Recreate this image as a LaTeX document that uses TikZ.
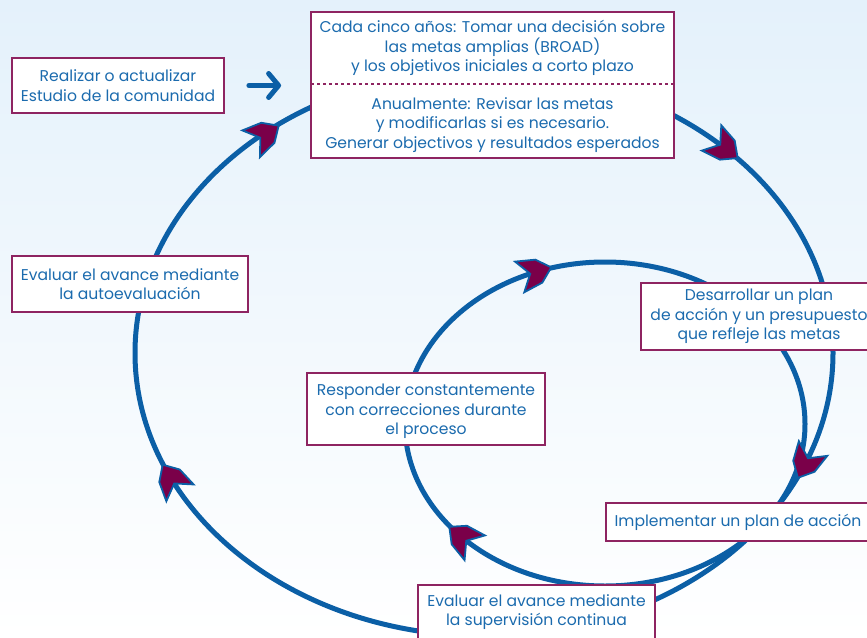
\documentclass[tikz,border=0pt]{standalone}
\usepackage{fontspec}
\setmainfont{Poppins}
\usetikzlibrary{arrows.meta, positioning}
\definecolor{loopblue} {HTML}{0B5FA6}
\definecolor{txtblue}  {HTML}{1B6BAE}
\definecolor{frame}    {HTML}{8E2461}
\definecolor{chev}     {HTML}{7A0049}
\definecolor{skytop}   {HTML}{E4F1FB}
\tikzset{
  stage/.style={draw=frame, line width=1.8pt, fill=white, text=txtblue, align=center,
    inner sep=0pt, font=\fontsize{15.6}{19.5}\selectfont},
  loop/.style={draw=loopblue, line width=5pt},
  chevron/.pic={\filldraw[fill=chev, draw=loopblue, line width=1.8pt, line join=miter]
    (17,0) -- (4,-12) -- (-16,-16) -- (-5,0) -- (-16,16) -- (4,12) -- cycle;}
}

\begin{document}
\begin{tikzpicture}[x=1pt, y=-1pt]
  \clip (0,0) rectangle (867,637);
  \shade[top color=skytop, bottom color=white] (0,0) rectangle (867,637);

  % the two cycles
  \coordinate (outerc) at (484,353);
  \coordinate (innerc) at (605,424);
  \draw[loop] (outerc) ellipse [x radius=349, y radius=283];
  \draw[loop] (innerc) ellipse [x radius=200, y radius=162];

  \pic[rotate=-117.4] at (805.7,462.7) {chevron};
  \pic[rotate=121.6] at (171.6,479.2) {chevron};
  \pic[rotate=33.3] at (264.5,135) {chevron};
  \pic[rotate=-37.6] at (724.2,147.7) {chevron};
  \pic[rotate=16.8] at (535,272.3) {chevron};
  \pic[rotate=140.5] at (462.4,537.6) {chevron};

  % boxes
  \node[stage, minimum width=212pt, minimum height=55pt] (survey) at (118,85.5)
    {Realizar o actualizar\\Estudio de la comunidad};
  \node[stage, draw=none, minimum width=361pt, minimum height=70pt] (broad) at (492.5,48)
    {Cada cinco años: Tomar una decisión sobre\\las metas amplias (BROAD)\\y los objetivos iniciales a corto plazo};
  \node[stage, draw=none, minimum width=361pt, minimum height=74pt] (annual) at (492.5,120)
    {\rule{0pt}{22pt}Anualmente: Revisar las metas\\y modificarlas si es necesario.\\Generar objectivos y resultados esperados};
  \draw[frame, line width=1.8pt] (broad.north west) rectangle (annual.south east);
  \draw[frame, line width=2pt, dash pattern=on 3pt off 3pt] (broad.south west) -- (broad.south east);

  \node[stage, minimum width=236pt, minimum height=56pt] (selfeval) at (130,284)
    {Evaluar el avance mediante\\la autoevaluación};
  \node[stage, minimum width=236pt, minimum height=67pt] (plan) at (759,316.5)
    {Desarrollar un plan\\de acción y un presupuesto\\que refleje las metas};
  \node[stage, minimum width=238pt, minimum height=72pt] (respond) at (426,409)
    {\rule{0pt}{17pt}Responder constantemente\\con correcciones durante\\el proceso};
  \node[stage, minimum width=264pt, minimum height=38pt] (implement) at (738,522)
    {Implementar un plan de acción};
  \node[stage, minimum width=237pt, minimum height=54pt] (monitor) at (536.5,612)
    {Evaluar el avance mediante\\la supervisión continua};

  \draw[loopblue, line width=5pt, line cap=round, shorten <=24pt, shorten >=30pt,
    -{Straight Barb[length=10pt, width=24pt, round]}] (survey) -- (survey -| annual.west);
\end{tikzpicture}
\end{document}
